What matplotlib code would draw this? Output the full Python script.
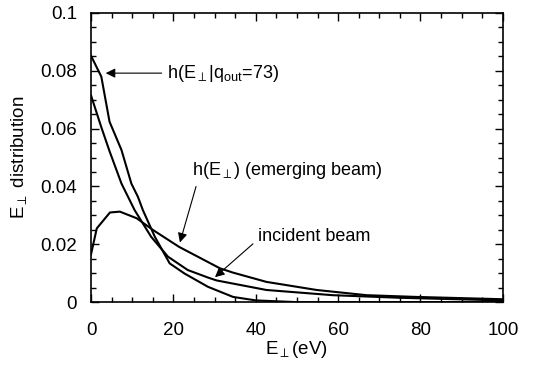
import numpy as np
import matplotlib
matplotlib.use('Agg')
import matplotlib.pyplot as plt
from matplotlib.ticker import MultipleLocator, FormatStrFormatter

plt.rcParams['font.family'] = ['Liberation Sans', 'DejaVu Sans']
plt.rcParams['mathtext.fontset'] = 'custom'
plt.rcParams['mathtext.rm'] = 'Liberation Sans'
plt.rcParams['mathtext.it'] = 'Liberation Sans'
plt.rcParams['mathtext.sf'] = 'Liberation Sans'

# conditional distribution h(E_perp | q_out = 73)
x_cond = [0, 2.5, 4.5, 7.4, 9.8, 11.4, 12.6, 15.5, 19.1, 22.7, 28.4, 34.5, 40, 46.6, 50, 60, 80, 100]
y_cond = [0.0852, 0.0780, 0.0624, 0.0526, 0.041, 0.0364, 0.0318, 0.0226, 0.0134, 0.0099, 0.0053,
          0.0018, 0.0006, 0.0002, 0.0, 0.0, 0.0, 0.0]

# incident beam
x_inc = [0, 2.5, 4.5, 7.4, 9.0, 10.6, 14.6, 18.7, 23.5, 28.4, 30.5, 42.6, 58.7, 75, 100]
y_inc = [0.0715, 0.0605, 0.0522, 0.041, 0.0364, 0.0318, 0.0226, 0.0157, 0.0111, 0.0085, 0.0075,
         0.0042, 0.0024, 0.0015, 0.0006]

# emerging beam h(E_perp)
x_em = [0, 1.4, 4.6, 7.0, 11.1, 15.1, 21.4, 31.3, 34.5, 42.6, 54.8, 66.9, 79, 100]
y_em = [0.0165, 0.0255, 0.031, 0.0313, 0.029, 0.0249, 0.0191, 0.0117, 0.0102, 0.007, 0.0042,
        0.0024, 0.0018, 0.001]

fig = plt.figure(figsize=(5.43, 3.68), dpi=100)
ax = fig.add_axes([0.1676, 0.179, 0.7584, 0.7857])

ax.plot(x_cond, y_cond, 'k', lw=1.5)
ax.plot(x_inc, y_inc, 'k', lw=1.5)
ax.plot(x_em, y_em, 'k', lw=1.5)

ax.set_xlim(0, 100)
ax.set_ylim(0, 0.1)

ax.xaxis.set_major_locator(MultipleLocator(20))
ax.xaxis.set_minor_locator(MultipleLocator(5))
ax.yaxis.set_major_locator(MultipleLocator(0.02))
ax.yaxis.set_minor_locator(MultipleLocator(0.005))
ax.xaxis.set_major_formatter(FormatStrFormatter('%g'))
ax.yaxis.set_major_formatter(FormatStrFormatter('%g'))
ax.tick_params(which='both', direction='in', top=True, right=True, labelsize=13.5, width=1)
ax.tick_params(which='major', length=6)
ax.tick_params(which='minor', length=3.5)
ax.tick_params(axis='x', which='major', pad=14)
ax.tick_params(axis='y', which='major', pad=10)
for s in ax.spines.values():
    s.set_linewidth(1.2)

ax.set_xlabel(r'$\mathrm{E_{\perp}}$(eV)', fontsize=13.5, labelpad=0)
ax.set_ylabel(r'$\mathrm{E_{\perp}}$ distribution', fontsize=13.5, labelpad=8)

arr = dict(arrowstyle='-|>', color='k', lw=0.8, mutation_scale=14)
ax.annotate(r'h($\mathrm{E_{\perp}}$|$\mathrm{q_{out}}$=73)', xy=(2.9, 0.0792), xytext=(18.5, 0.0792),
            fontsize=13, va='center', ha='left', arrowprops=arr)
ax.annotate(r'h($\mathrm{E_{\perp}}$) (emerging beam)', xy=(21.4, 0.0197), xytext=(24.5, 0.0455),
            fontsize=13, va='center', ha='left',
            arrowprops=dict(arr, relpos=(0.03, 0.0)))
ax.annotate('incident beam', xy=(29.6, 0.0080), xytext=(40.5, 0.0228),
            fontsize=13, va='center', ha='left',
            arrowprops=dict(arr, relpos=(0.0, 0.3)))

fig.savefig('out.png', dpi=100)
